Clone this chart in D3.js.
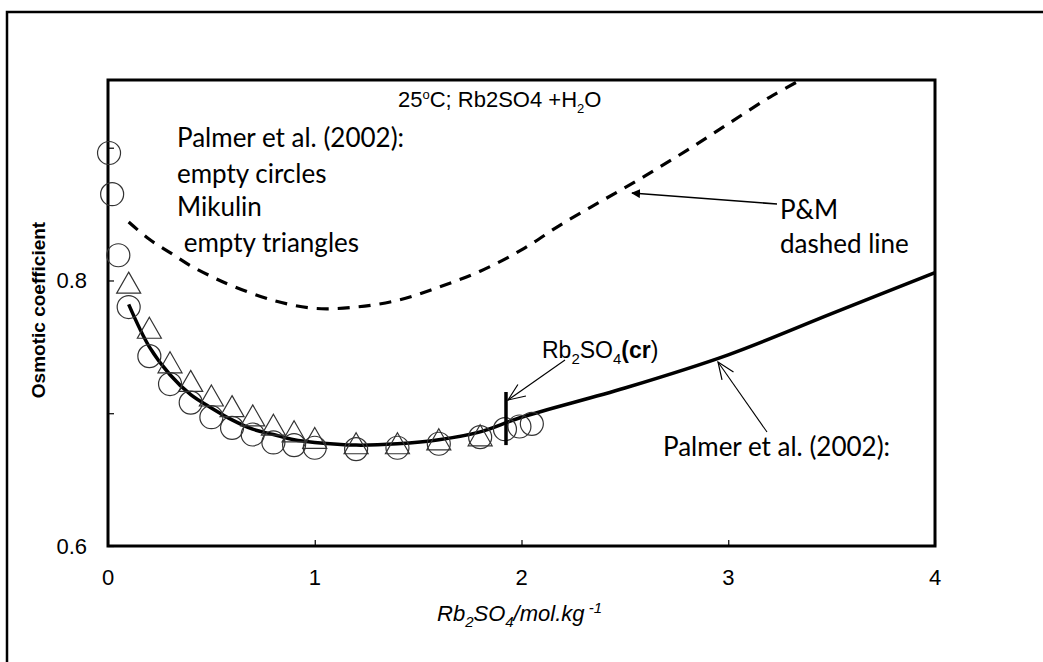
<!doctype html>
<html lang="en">
<head>
<meta charset="UTF-8" />
<title>Osmotic coefficient Rb2SO4</title>
<script src="https://d3js.org/d3.v7.min.js"></script>
<style>
    body { margin: 0; background: #fff; }
    .tick-label { font-family: Arial, 'Liberation Sans', sans-serif; font-size: 22px; fill: #000; }
    .note { font-family: Lato, 'Open Sans', sans-serif; font-size: 26px; fill: #000; }
    .arial { font-family: Arial, 'Liberation Sans', sans-serif; fill: #000; }
</style>
</head>
<body>
<div id="chart-container"></div>
<script>
    // Palmer et al. (2002) experimental points (empty circles)
    var palmerX = [0.005, 0.02, 0.05, 0.1, 0.2, 0.3, 0.4, 0.5, 0.6, 0.7, 0.8, 0.9, 1.0, 1.2, 1.4, 1.6, 1.8, 1.92, 1.99, 2.05];
    var palmerY = [0.896, 0.865, 0.819, 0.780, 0.743, 0.722, 0.708, 0.697, 0.689, 0.684, 0.678, 0.676, 0.674, 0.673, 0.674, 0.677, 0.682, 0.688, 0.690, 0.692];

    // Mikulin points (empty triangles)
    var mikulinX = [0.1, 0.2, 0.3, 0.4, 0.5, 0.6, 0.7, 0.8, 0.9, 1.0, 1.2, 1.4, 1.6, 1.8];
    var mikulinY = [0.798, 0.764, 0.738, 0.724, 0.713, 0.705, 0.698, 0.691, 0.686, 0.681, 0.677, 0.677, 0.680, 0.683];

    // Palmer et al. model (solid line)
    var modelX = [0.1, 0.2, 0.3, 0.4, 0.5, 0.6, 0.7, 0.8, 0.9, 1.0, 1.2, 1.4, 1.6, 1.8, 2.0, 2.5, 3.0, 3.5, 4.0];
    var modelY = [0.782, 0.750, 0.729, 0.714, 0.704, 0.695, 0.688, 0.684, 0.680, 0.678, 0.676, 0.677, 0.680, 0.686, 0.697, 0.719, 0.744, 0.775, 0.806];

    // P&M model (dashed line)
    var pmX = [0.1, 0.2, 0.3, 0.4, 0.5, 0.6, 0.8, 1.0, 1.2, 1.4, 1.6, 1.8, 2.0, 2.2, 2.4, 2.6, 2.8, 3.0, 3.2, 3.35];
    var pmY = [0.844, 0.831, 0.821, 0.811, 0.803, 0.796, 0.785, 0.779, 0.780, 0.785, 0.795, 0.807, 0.823, 0.843, 0.861, 0.879, 0.898, 0.918, 0.938, 0.951];

    // solubility limit of Rb2SO4(cr)
    var crX = 1.925;
    var crY = [0.676, 0.716];

    var xTicks = [0, 1, 2, 3, 4];
    var yTicks = [0.6, 0.7, 0.8, 0.9];
    var yLabels = [0.6, 0.8];

    var canvasWidth = 1043;
    var canvasHeight = 662;
    var margin = { top: 80, right: 108, bottom: 116, left: 108 };
    var width = canvasWidth - margin.left - margin.right;
    var height = canvasHeight - margin.top - margin.bottom;

    var svg = d3.select('#chart-container')
        .append('svg')
        .attr('width', canvasWidth)
        .attr('height', canvasHeight);

    // outer frame
    svg.append('rect')
        .attr('x', 7).attr('y', 12)
        .attr('width', canvasWidth + 20).attr('height', canvasHeight + 20)
        .attr('fill', 'none').attr('stroke', '#000').attr('stroke-width', 2.5);

    var defs = svg.append('defs');
    defs.append('marker')
        .attr('id', 'arrow-filled')
        .attr('viewBox', '0 0 10 10')
        .attr('refX', 9).attr('refY', 5)
        .attr('markerWidth', 9).attr('markerHeight', 9)
        .attr('markerUnits', 'userSpaceOnUse')
        .attr('orient', 'auto')
        .append('path')
        .attr('d', 'M0,0 L10,5 L0,10 Z')
        .attr('fill', '#000');
    defs.append('marker')
        .attr('id', 'arrow-open')
        .attr('viewBox', '0 0 20 20')
        .attr('refX', 19).attr('refY', 10)
        .attr('markerWidth', 20).attr('markerHeight', 20)
        .attr('markerUnits', 'userSpaceOnUse')
        .attr('orient', 'auto')
        .append('path')
        .attr('d', 'M2,3 L19,10 L2,17')
        .attr('fill', 'none')
        .attr('stroke', '#000')
        .attr('stroke-width', 1.2);

    var g = svg.append('g')
        .attr('transform', 'translate(' + margin.left + ',' + margin.top + ')');

    var x = d3.scaleLinear().domain([0, 4]).range([0, width]);
    var y = d3.scaleLinear().domain([0.6, 0.951]).range([height, 0]);

    var clip = defs.append('clipPath').attr('id', 'plot-clip');
    clip.append('rect').attr('width', width).attr('height', height);

    // axes (ticks pointing inside)
    g.append('g')
        .attr('transform', 'translate(0,' + height + ')')
        .call(d3.axisBottom(x).tickValues(xTicks).tickSizeInner(-6).tickSizeOuter(0).tickFormat(''))
        .call(function (a) { a.select('.domain').remove(); a.selectAll('line').attr('stroke-width', 1.2); });

    g.append('g')
        .call(d3.axisLeft(y).tickValues(yTicks).tickSizeInner(-6).tickSizeOuter(0).tickFormat(''))
        .call(function (a) { a.select('.domain').remove(); a.selectAll('line').attr('stroke-width', 1.2); });

    g.selectAll('.xlab')
        .data(xTicks)
        .enter()
        .append('text')
        .attr('class', 'tick-label')
        .attr('x', function (d) { return x(d); })
        .attr('y', height + 39)
        .attr('text-anchor', 'middle')
        .text(function (d) { return d; });

    g.selectAll('.ylab')
        .data(yLabels)
        .enter()
        .append('text')
        .attr('class', 'tick-label')
        .attr('x', -21)
        .attr('y', function (d) { return y(d) + 8; })
        .attr('text-anchor', 'end')
        .text(function (d) { return d.toFixed(1); });

    // plot frame
    g.append('rect')
        .attr('width', width).attr('height', height)
        .attr('fill', 'none').attr('stroke', '#000').attr('stroke-width', 3);

    var line = d3.line()
        .x(function (d) { return x(d[0]); })
        .y(function (d) { return y(d[1]); })
        .curve(d3.curveCatmullRom);

    var plot = g.append('g').attr('clip-path', 'url(#plot-clip)');

    plot.append('path')
        .datum(d3.zip(pmX, pmY))
        .attr('d', line)
        .attr('fill', 'none')
        .attr('stroke', '#000')
        .attr('stroke-width', 3.2)
        .attr('stroke-dasharray', '12,9');

    // markers can spill over the left axis
    var circleData = d3.zip(palmerX, palmerY);
    g.selectAll('.pt-circle')
        .data(circleData)
        .enter()
        .append('circle')
        .attr('cx', function (d) { return x(d[0]); })
        .attr('cy', function (d) { return y(d[1]); })
        .attr('r', 11.5)
        .attr('fill', 'none')
        .attr('stroke', '#333')
        .attr('stroke-width', 1.2);

    var triData = d3.zip(mikulinX, mikulinY);
    g.selectAll('.pt-tri')
        .data(triData)
        .enter()
        .append('path')
        .attr('transform', function (d) { return 'translate(' + x(d[0]) + ',' + y(d[1]) + ')'; })
        .attr('d', 'M0,-11 L12,10 L-12,10 Z')
        .attr('fill', 'none')
        .attr('stroke', '#333')
        .attr('stroke-width', 1.2);

    plot.append('path')
        .datum(d3.zip(modelX, modelY))
        .attr('d', line)
        .attr('fill', 'none')
        .attr('stroke', '#000')
        .attr('stroke-width', 3.5);

    g.append('line')
        .attr('x1', x(crX)).attr('x2', x(crX))
        .attr('y1', y(crY[0])).attr('y2', y(crY[1]))
        .attr('stroke', '#000')
        .attr('stroke-width', 3.5);

    // annotations
    var title = svg.append('text')
        .attr('class', 'arial')
        .attr('x', 398).attr('y', 107)
        .attr('font-size', 22);
    title.append('tspan').text('25');
    title.append('tspan').attr('font-size', 13).attr('dy', -8).text('o');
    title.append('tspan').attr('dy', 8).text('C; Rb2SO4 +H');
    title.append('tspan').attr('font-size', 13).attr('dy', 6).text('2');
    title.append('tspan').attr('dy', -6).text('O');

    var leftNote = ['Palmer et al. (2002):', 'empty circles', 'Mikulin', ' empty triangles'];
    var leftBase = [147, 183, 216, 252];
    svg.selectAll('.left-note')
        .data(leftNote)
        .enter()
        .append('text')
        .attr('class', 'note')
        .attr('xml:space', 'preserve')
        .style('white-space', 'pre')
        .attr('x', 177)
        .attr('y', function (d, i) { return leftBase[i]; })
        .text(function (d) { return d; });

    svg.append('text').attr('class', 'note').attr('x', 780).attr('y', 219).text('P&M');
    svg.append('text').attr('class', 'note').attr('x', 780).attr('y', 253).text('dashed line');
    svg.append('line')
        .attr('x1', 777).attr('y1', 204).attr('x2', 632).attr('y2', 193)
        .attr('stroke', '#000').attr('stroke-width', 1.6)
        .attr('marker-end', 'url(#arrow-filled)');

    var crLabel = svg.append('text')
        .attr('class', 'arial')
        .attr('x', 542).attr('y', 358)
        .attr('font-size', 23);
    crLabel.append('tspan').text('Rb');
    crLabel.append('tspan').attr('font-size', 15).attr('dy', 6).text('2');
    crLabel.append('tspan').attr('dy', -6).text('SO');
    crLabel.append('tspan').attr('font-size', 15).attr('dy', 6).text('4');
    crLabel.append('tspan').attr('dy', -6).attr('font-weight', 'bold').text('(cr');
    crLabel.append('tspan').text(')');
    svg.append('line')
        .attr('x1', 565).attr('y1', 360).attr('x2', 508).attr('y2', 400)
        .attr('stroke', '#000').attr('stroke-width', 1.1)
        .attr('marker-end', 'url(#arrow-open)');

    svg.append('text').attr('class', 'note').attr('x', 663).attr('y', 456).text('Palmer et al. (2002):');
    svg.append('line')
        .attr('x1', 767).attr('y1', 432).attr('x2', 718).attr('y2', 362)
        .attr('stroke', '#000').attr('stroke-width', 1.1)
        .attr('marker-end', 'url(#arrow-open)');

    // axis titles
    svg.append('text')
        .attr('class', 'arial')
        .attr('transform', 'translate(45,310) rotate(-90)')
        .attr('text-anchor', 'middle')
        .attr('font-size', 19)
        .attr('font-weight', 'bold')
        .text('Osmotic coefficient');

    var xTitle = svg.append('text')
        .attr('class', 'arial')
        .attr('x', 437).attr('y', 621)
        .attr('font-size', 22)
        .attr('font-style', 'italic');
    xTitle.append('tspan').text('Rb');
    xTitle.append('tspan').attr('font-size', 15).attr('dy', 6).text('2');
    xTitle.append('tspan').attr('dy', -6).text('SO');
    xTitle.append('tspan').attr('font-size', 15).attr('dy', 6).text('4');
    xTitle.append('tspan').attr('dy', -6).text('/mol.kg');
    xTitle.append('tspan').attr('font-size', 15).attr('dy', -8).text(' -1');
</script>
</body>
</html>
